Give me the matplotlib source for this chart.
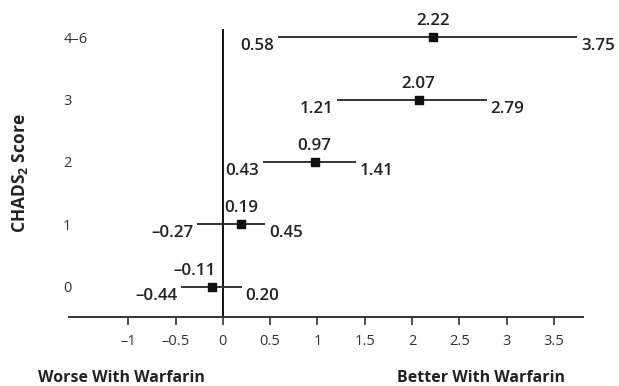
import matplotlib
matplotlib.use("Agg")
import matplotlib.pyplot as plt

plt.rcParams["font.family"] = ["Open Sans", "DejaVu Sans"]
plt.rcParams["mathtext.fontset"] = "custom"
plt.rcParams["mathtext.rm"] = "Open Sans"
plt.rcParams["mathtext.bf"] = "Open Sans:bold"

# data
scores = ["0", "1", "2", "3", "4\u20136"]
means = [-0.11, 0.19, 0.97, 2.07, 2.22]
lower = [-0.44, -0.27, 0.43, 1.21, 0.58]
upper = [0.20, 0.45, 1.41, 2.79, 3.75]
xticks = [-1, -0.5, 0, 0.5, 1, 1.5, 2, 2.5, 3, 3.5]


def fmt(v):
    s = f"{v:.2f}"
    return s.replace("-", "\u2013")


fig = plt.figure(figsize=(6.19, 3.86), dpi=100)
ax = fig.add_axes((0.111, 0.179, 0.831, 0.746))

line_col = "#333333"
rows = list(range(len(scores)))

ax.axvline(0, color="black", lw=1.3, zorder=1)
ax.hlines(rows, lower, upper, color=line_col, lw=1.4, zorder=2)
ax.scatter(means, rows, marker="s", s=34, color="#111111", zorder=3)

lab = dict(fontsize=12.2, fontweight="semibold", color="#222222",
           textcoords="offset pixels")
for y, m, lo, hi in zip(rows, means, lower, upper):
    # point estimate above the marker (shifted left when it would cross zero)
    if m < 0:
        ax.annotate(fmt(m), (m, y), xytext=(3, 16), ha="right", va="center", **lab)
    else:
        ax.annotate(fmt(m), (m, y), xytext=(0, 16), ha="center", va="center", **lab)
    ax.annotate(fmt(lo), (lo, y), xytext=(-4, -9), ha="right", va="center", **lab)
    ax.annotate(fmt(hi), (hi, y), xytext=(4, -9), ha="left", va="center", **lab)

ax.set_xlim(-1.63, 3.81)
ax.set_ylim(-0.48, 4.13)

ax.set_xticks(xticks)
ax.set_xticklabels([f"{t:g}".replace("-", "\u2013") for t in xticks],
                   fontsize=10.5, color="#333333")
ax.tick_params(axis="x", direction="out", length=6, width=1.2, pad=6,
               color="#333333")

ax.set_yticks(rows)
ax.set_yticklabels(scores, fontsize=10.5, color="#333333")
for t in ax.get_yticklabels():
    t.set_horizontalalignment("left")
ax.tick_params(axis="y", length=0, pad=4)

for side in ("left", "right", "top"):
    ax.spines[side].set_visible(False)
ax.spines["bottom"].set_linewidth(1.4)
ax.spines["bottom"].set_color("#333333")

fig.text(0.032, 0.552, r"CHADS$_\mathbf{2}$ Score", rotation=90, ha="center",
         va="center", fontsize=12.5, fontweight="bold", color="#222222")
fig.text(0.061, 0.02, "Worse With Warfarin", ha="left", va="center",
         fontsize=11.5, fontweight="bold", color="#222222")
fig.text(0.777, 0.02, "Better With Warfarin", ha="center", va="center",
         fontsize=11.5, fontweight="bold", color="#222222")

fig.savefig("out.png", dpi=100)
